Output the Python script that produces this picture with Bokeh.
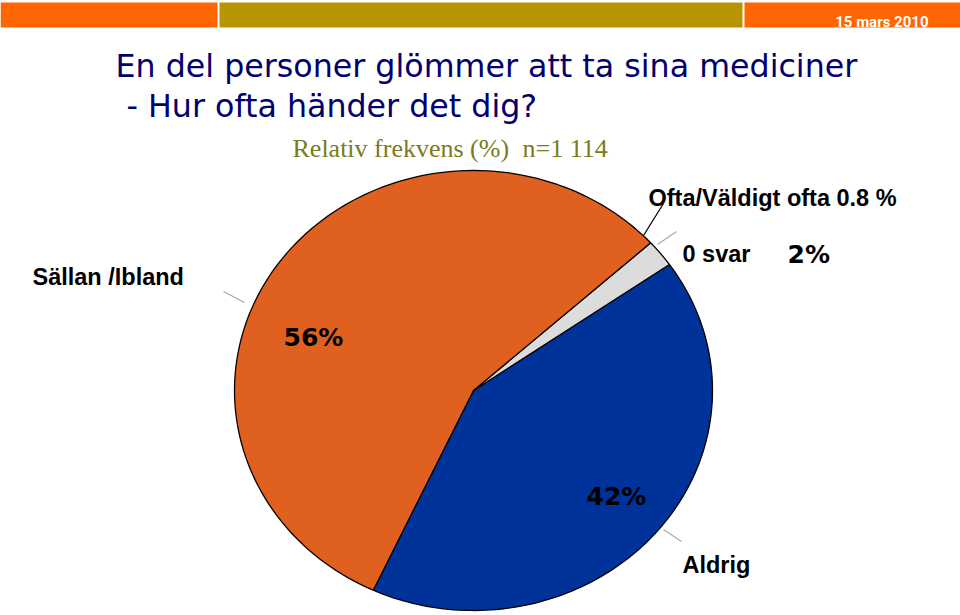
import numpy as np
from bokeh.plotting import figure
from bokeh.models import ColumnDataSource, Range1d
from bokeh.core.properties import value
from bokeh.embed import file_html
from bokeh.resources import INLINE

# ---- data ----
categories = ["Aldrig", "0 svar", "Sällan /Ibland"]
shares = [41.6, 2.0, 56.4]
pct_labels = ["42%", "2%", "56%"]
colors = ["#003399", "#DCDCDC", "#E06020"]
small_category = "Ofta/Väldigt ofta"
small_share_label = "0.8 %"
title_line1 = "En del personer glömmer att ta sina mediciner"
title_line2 = "- Hur ofta händer det dig?"
subtitle_a = "Relativ frekvens (%)"
subtitle_b = "n=1 114"
date_text = "15 mars 2010"

p = figure(width=960, height=615, x_range=Range1d(0, 960), y_range=Range1d(615, 0),
           output_backend="svg", toolbar_location=None, min_border=0)
p.axis.visible = False
p.grid.visible = False
p.outline_line_color = None
p.background_fill_color = "white"
p.border_fill_color = "white"

# ---- top banner ----
p.quad(left=[0, 219, 744], right=[217, 742, 960], top=[2, 2, 2], bottom=[27, 27, 27],
       fill_color=["#FF6600", "#B89400", "#FF6600"], line_color=None)
p.text(x=[928], y=[21], text=[date_text], text_color="white", text_align="right",
       text_baseline="alphabetic", text_font=value("Roboto"),
       text_font_size="15px", text_font_style="bold")

# ---- titles ----
p.text(x=[115], y=[65], text=[title_line1], text_color="#00006E",
       text_font=value("DejaVu Sans"), text_font_size="31.7px", text_baseline="alphabetic")
p.text(x=[126], y=[105], text=[title_line2], text_color="#00006E",
       text_font=value("DejaVu Sans"), text_font_size="31.7px", text_baseline="alphabetic")
p.text(x=[292, 522], y=[148, 148], text=[subtitle_a, subtitle_b], text_color="#7A7A1E",
       text_font=value("Liberation Serif"), text_font_size="26px", text_baseline="alphabetic")

# ---- pie (elliptical) ----
cx, cy, rx, ry = 473.0, 390.0, 239.0, 220.0
start = np.deg2rad(-114.8)
total = sum(shares)
xs, ys = [], []
a0 = start
for s in shares:
    a1 = a0 + 2 * np.pi * s / total
    t = np.linspace(a0, a1, 120)
    xs.append([cx] + list(cx + rx * np.cos(t)))
    ys.append([cy] + list(cy - ry * np.sin(t)))
    a0 = a1
src = ColumnDataSource(dict(xs=xs, ys=ys, color=colors, cat=categories))
p.patches("xs", "ys", source=src, fill_color="color", line_color="black", line_width=1.3)

# ---- leader lines ----
p.segment(x0=[223, 657, 663], y0=[291, 244, 529], x1=[244, 676, 681], y1=[302, 231, 541],
          line_color="#A8A8A8", line_width=1.2)
p.segment(x0=[663], y0=[203], x1=[643], y1=[235], line_color="black", line_width=1.2)

# ---- category labels ----
lab_font = value("Liberation Sans")
p.text(x=[32, 682, 682], y=[276, 253, 564], text=[categories[2], categories[1], categories[0]],
       text_color="black", text_font=lab_font, text_font_size="23.5px",
       text_font_style="bold", text_baseline="alphabetic")
p.text(x=[648], y=[197], text=[small_category + " " + small_share_label], text_color="black",
       text_font=lab_font, text_font_size="23.5px", text_font_style="bold",
       text_baseline="alphabetic")

# ---- percentage labels ----
p.text(x=[283, 787, 586], y=[337, 254, 496], text=[pct_labels[2], pct_labels[1], pct_labels[0]],
       text_color="black", text_font=value("DejaVu Sans"), text_font_size="25px",
       text_font_style="bold", text_baseline="alphabetic")

open("out.html", "w").write(file_html(p, INLINE))
